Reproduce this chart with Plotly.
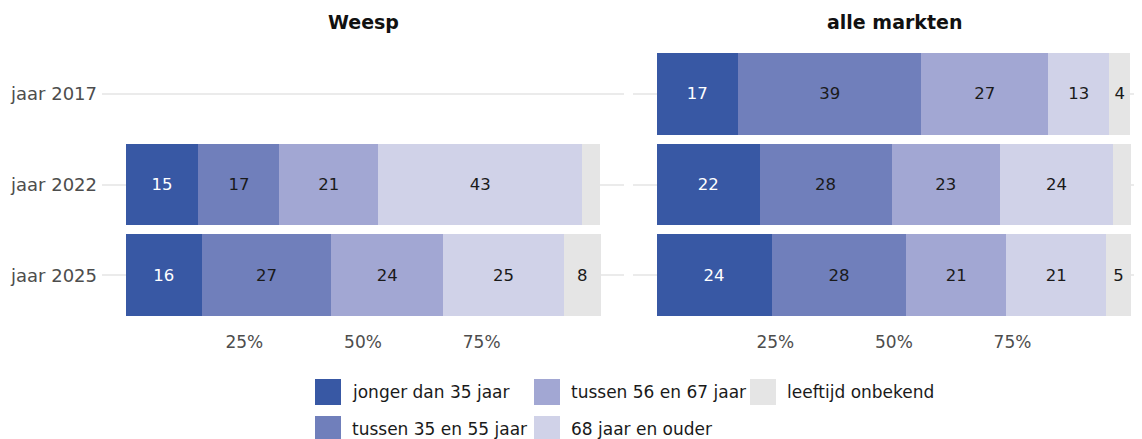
import plotly.graph_objects as go

OFF = 8  # page body margin
W, H = 1142 - OFF, 439 - OFF

years = ["jaar 2017", "jaar 2022", "jaar 2025"]
groups = ["jonger dan 35 jaar", "tussen 35 en 55 jaar", "tussen 56 en 67 jaar",
          "68 jaar en ouder", "leeftijd onbekend"]
markets = ["Weesp", "alle markten"]

# percentages per age group, for [2017, 2022, 2025]
weesp_jonger35 = [None, 15.3, 16.0]
weesp_35_55 = [None, 17.1, 27.3]
weesp_56_67 = [None, 20.8, 23.6]
weesp_68plus = [None, 43.0, 25.4]
weesp_onbekend = [None, 3.8, 7.8]

alle_jonger35 = [17.1, 21.7, 24.2]
alle_35_55 = [38.7, 27.8, 28.4]
alle_56_67 = [26.7, 22.9, 21.1]
alle_68plus = [12.9, 23.8, 21.0]
alle_onbekend = [4.4, 3.8, 5.3]

x_ticks = [25, 50, 75]
x_ticktext = ["25%", "50%", "75%"]

colors = ["#3858a4", "#707fbb", "#a2a7d3", "#d0d2e8", "#e5e5e5"]
text_colors = ["#ffffff", "#1a1a1a", "#1a1a1a", "#1a1a1a", "#1a1a1a"]
FONT = "DejaVu Sans"

series = {
    "Weesp": [weesp_jonger35, weesp_35_55, weesp_56_67, weesp_68plus, weesp_onbekend],
    "alle markten": [alle_jonger35, alle_35_55, alle_56_67, alle_68plus, alle_onbekend],
}


def label(v):
    if v is None or v < 4:
        return ""
    return str(int(round(v)))


fig = go.Figure()
for mi, m in enumerate(markets):
    for gi, g in enumerate(groups):
        vals = series[m][gi]
        fig.add_trace(go.Bar(
            y=years, x=vals, orientation="h", name=g,
            marker=dict(color=colors[gi], line=dict(width=0)),
            text=[label(v) for v in vals],
            textposition="inside", insidetextanchor="middle", textangle=0,
            textfont=dict(color=text_colors[gi], size=16.5, family=FONT),
            xaxis="x" if mi == 0 else "x2", yaxis="y" if mi == 0 else "y2",
            showlegend=False, hoverinfo="skip",
        ))


def px(x):
    return (x - OFF) / W


def py(y):
    return 1 - (y - OFF) / H


ydom = [py(329.6), py(39.4)]
yax = dict(type="category", categoryorder="array", categoryarray=years,
           range=[2.6, -0.6], showgrid=True, gridcolor="#ebebeb", gridwidth=1.5,
           zeroline=False, showline=False, ticks="", domain=ydom,
           tickfont=dict(size=18, color="#4d4d4d", family=FONT))
xax = dict(tickvals=x_ticks, ticktext=x_ticktext, showgrid=False, zeroline=False,
           showline=False, ticks="", tickfont=dict(size=17, color="#4d4d4d", family=FONT))

fig.update_layout(
    width=W, height=H, margin=dict(l=0, r=0, t=0, b=0),
    paper_bgcolor="white", plot_bgcolor="white",
    barmode="stack", bargap=0.1, showlegend=False,
    font=dict(family=FONT),
    xaxis=dict(xax, domain=[px(102), px(624)], range=[-5, 105], anchor="y"),
    xaxis2=dict(xax, domain=[px(633), 1.0], range=[-5, 102.3], anchor="y2"),
    yaxis=dict(yax, anchor="x", ticklabelstandoff=4),
    yaxis2=dict(yax, anchor="x2", showticklabels=False, matches="y"),
)

# panel titles
for m, cx in zip(markets, [363, 894]):
    fig.add_annotation(x=px(cx), y=py(22), xref="paper", yref="paper", text=f"<b>{m}</b>",
                       showarrow=False, font=dict(size=19, color="#111111", family=FONT),
                       xanchor="center", yanchor="middle")

# legend (3 columns, 2 rows, filled column-wise)
leg_x = [315, 534, 750]
leg_y = [392, 429]
sw = 26
for gi, g in enumerate(groups):
    col, row = gi // 2, gi % 2
    x0, yc = leg_x[col], leg_y[row]
    fig.add_shape(type="rect", xref="paper", yref="paper",
                  x0=px(x0), x1=px(x0 + sw), y0=py(yc + sw / 2), y1=py(yc - sw / 2),
                  fillcolor=colors[gi], line=dict(width=0))
    fig.add_annotation(x=px(x0 + sw + 9), y=py(yc), xref="paper", yref="paper", text=g,
                       showarrow=False, xanchor="left", yanchor="middle",
                       font=dict(size=17, color="#1a1a1a", family=FONT))

fig.write_html("out.html")
